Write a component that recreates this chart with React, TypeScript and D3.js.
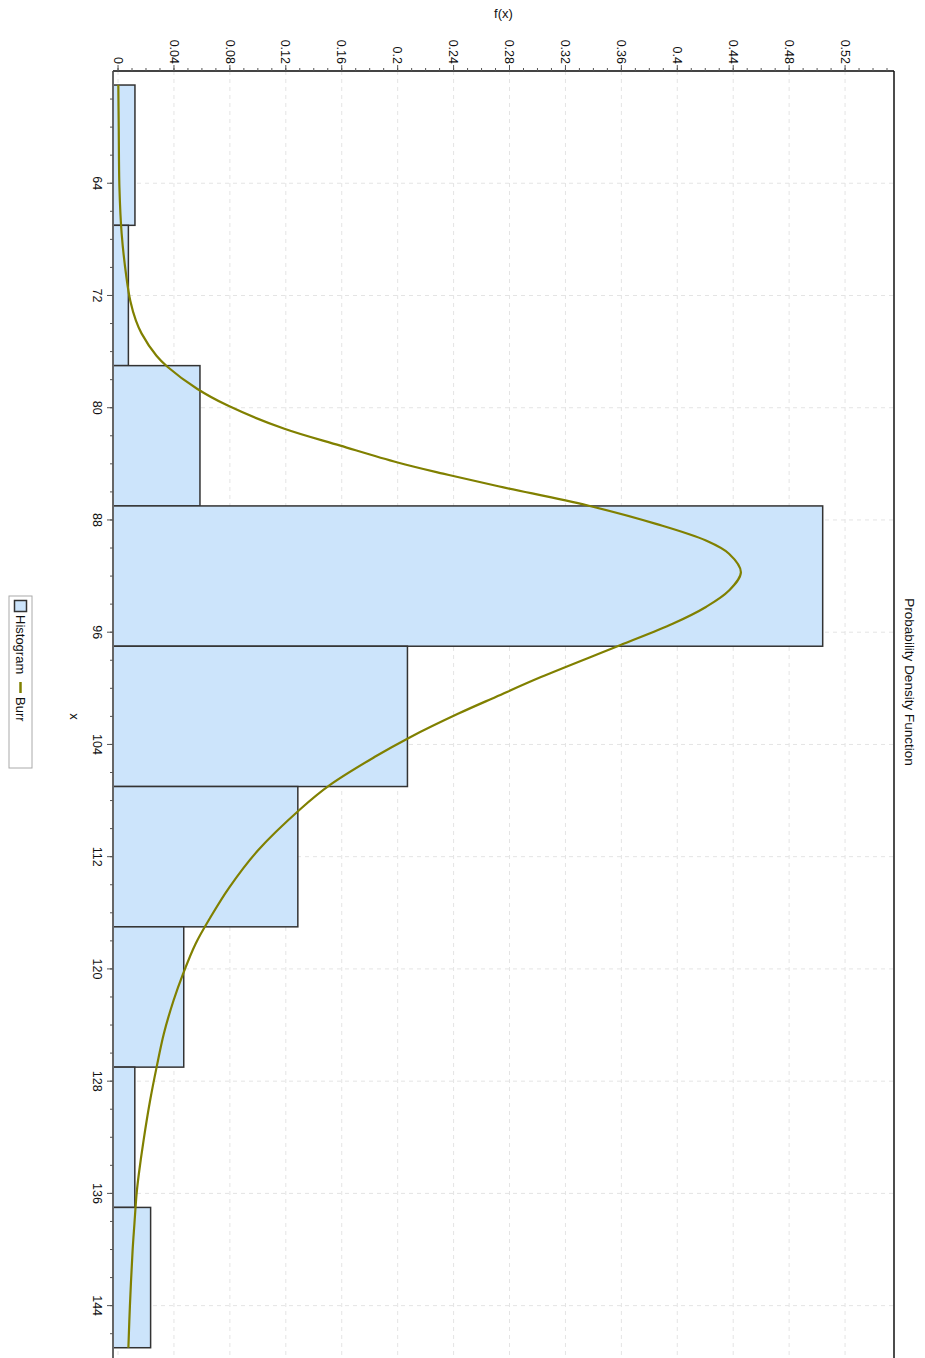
import React from "react";
import * as d3 from "d3";

const binStarts = [57, 67, 77, 87, 97, 107, 117, 127, 137];
const binWidth = 10;
const binValues = [0.0121, 0.0074, 0.0586, 0.504, 0.207, 0.1286, 0.047, 0.012, 0.0233];

const curveX = [57, 60, 64.3, 67.6, 70.7, 72.4, 73.8, 74.7, 76.3, 77.1, 78.65, 79.85, 81.5, 82.7, 83.9, 84.7, 85.6, 86.97, 88.28, 89.47, 90.41, 91.73, 93.03, 94.2, 95.4, 96.95, 99.2, 100.6, 101.8, 103.5, 104.9, 106.9, 108.6, 111.56, 114.2, 116.3, 118.2, 120.4, 122.25, 124.6, 127.0, 129.4, 132.2, 134.6, 136.0, 138.2, 140.1, 144.0, 147.0];
const curveY = [0.0002, 0.0005, 0.001, 0.0026, 0.006, 0.0088, 0.0128, 0.0168, 0.0275, 0.0355, 0.0565, 0.0785, 0.119, 0.159, 0.2, 0.2325, 0.272, 0.336, 0.3848, 0.4205, 0.437, 0.4455, 0.437, 0.4205, 0.3967, 0.3586, 0.3025, 0.2705, 0.2435, 0.2086, 0.1834, 0.1514, 0.1305, 0.1, 0.0795, 0.0662, 0.0555, 0.0463, 0.0397, 0.0328, 0.0276, 0.0229, 0.0183, 0.0149, 0.0133, 0.0117, 0.0104, 0.0085, 0.0074];

const xTicks = [64, 72, 80, 88, 96, 104, 112, 120, 128, 136, 144];
const yTicks = [0, 0.04, 0.08, 0.12, 0.16, 0.2, 0.24, 0.28, 0.32, 0.36, 0.4, 0.44, 0.48, 0.52];
const yTickLabels = ["0", "0.04", "0.08", "0.12", "0.16", "0.2", "0.24", "0.28", "0.32", "0.36", "0.4", "0.44", "0.48", "0.52"];

const title = "Probability Density Function";
const xTitle = "x";
const yTitle = "f(x)";
const legendLabels = ["Histogram", "Burr"];

const W = 925;
const H = 1358;
const FONT = "'Liberation Sans', Arial, sans-serif";

export default function App() {
  const top = 71;
  const left = 113;
  const right = 894;
  const xS = d3.scaleLinear().domain([56, 148]).range([top, top + 92 * 14.03]);
  const yS = d3.scaleLinear().domain([-0.0036, 0.555]).range([left, right]);
  const bottom = xS.range()[1];

  const minorY = d3.range(0, 0.5551, 0.01);
  const minorX = d3.range(58, 149, 2);

  const pts = curveX.map((x, i) => ({ x, v: curveY[i] }));
  const line = d3
    .line<{ x: number; v: number }>()
    .x((d) => yS(d.v))
    .y((d) => xS(d.x))
    .curve(d3.curveCatmullRom.alpha(0.5));

  const gridColor = "#e4e4e4";

  return (
    <svg
      width={W}
      height={H}
      style={{ position: "absolute", left: 0, top: 0, background: "#fff" }}
      fontFamily={FONT}
    >
      <rect x={0} y={0} width={W} height={H} fill="#fff" />
      {yTicks.map((t) => (
        <line key={"gy" + t} x1={yS(t)} x2={yS(t)} y1={top} y2={bottom} stroke={gridColor} strokeDasharray="4,4" />
      ))}
      {xTicks.map((t) => (
        <line key={"gx" + t} x1={left} x2={right} y1={xS(t)} y2={xS(t)} stroke={gridColor} strokeDasharray="4,4" />
      ))}
      {binStarts.map((s, i) => (
        <rect
          key={"b" + i}
          x={left}
          y={xS(s)}
          width={yS(binValues[i]) - left}
          height={xS(s + binWidth) - xS(s)}
          fill="#cce4fb"
          stroke="#333"
          strokeWidth={1.5}
        />
      ))}
      <path d={line(pts) || ""} fill="none" stroke="#808000" strokeWidth={2.2} />
      <line x1={left} x2={left} y1={top} y2={bottom} stroke="#666" strokeWidth={2} />
      <line x1={left} x2={right} y1={top} y2={top} stroke="#444" strokeWidth={2} />
      <line x1={right} x2={right} y1={top} y2={bottom} stroke="#111" strokeWidth={1.5} />
      {minorY.map((t, i) => (
        <line key={"my" + i} x1={yS(t)} x2={yS(t)} y1={top} y2={top - 3} stroke="#555" />
      ))}
      {yTicks.map((t, i) => (
        <g key={"ty" + t}>
          <line x1={yS(t)} x2={yS(t)} y1={top} y2={top - 6} stroke="#555" />
          <text
            transform={`translate(${yS(t)},${top - 7}) rotate(90)`}
            textAnchor="end"
            dy="0.35em"
            fontSize={12.5}
            fill="#111"
          >
            {yTickLabels[i]}
          </text>
        </g>
      ))}
      {minorX.map((t, i) => (
        <line key={"mx" + i} x1={left} x2={left - 3} y1={xS(t)} y2={xS(t)} stroke="#555" />
      ))}
      {xTicks.map((t) => (
        <g key={"tx" + t}>
          <line x1={left} x2={left - 6} y1={xS(t)} y2={xS(t)} stroke="#555" />
          <text
            transform={`translate(${left - 16},${xS(t)}) rotate(90)`}
            textAnchor="middle"
            dy="0.35em"
            fontSize={12.5}
            fill="#111"
          >
            {t}
          </text>
        </g>
      ))}
      <text x={(left + right) / 2} y={18} textAnchor="middle" fontSize={13} fill="#111">
        {yTitle}
      </text>
      <text
        transform={`translate(75,${(top + bottom) / 2}) rotate(90)`}
        textAnchor="middle"
        dy="0.35em"
        fontSize={13}
        fill="#111"
      >
        {xTitle}
      </text>
      <text
        transform={`translate(910,682) rotate(90)`}
        textAnchor="middle"
        dy="0.35em"
        fontSize={13.5}
        fill="#111"
      >
        {title}
      </text>
      <rect x={9} y={596} width={23} height={172} fill="#fff" stroke="#aaa" />
      <rect x={14.5} y={600.5} width={12} height={11} fill="#cce4fb" stroke="#333" strokeWidth={1.5} />
      <text transform={`translate(20.5,615) rotate(90)`} dy="0.35em" fontSize={13} fill="#111">
        {legendLabels[0]}
      </text>
      <line x1={20.5} x2={20.5} y1={682} y2={693} stroke="#808000" strokeWidth={2.5} />
      <text transform={`translate(20.5,697) rotate(90)`} dy="0.35em" fontSize={13} fill="#111">
        {legendLabels[1]}
      </text>
    </svg>
  );
}
